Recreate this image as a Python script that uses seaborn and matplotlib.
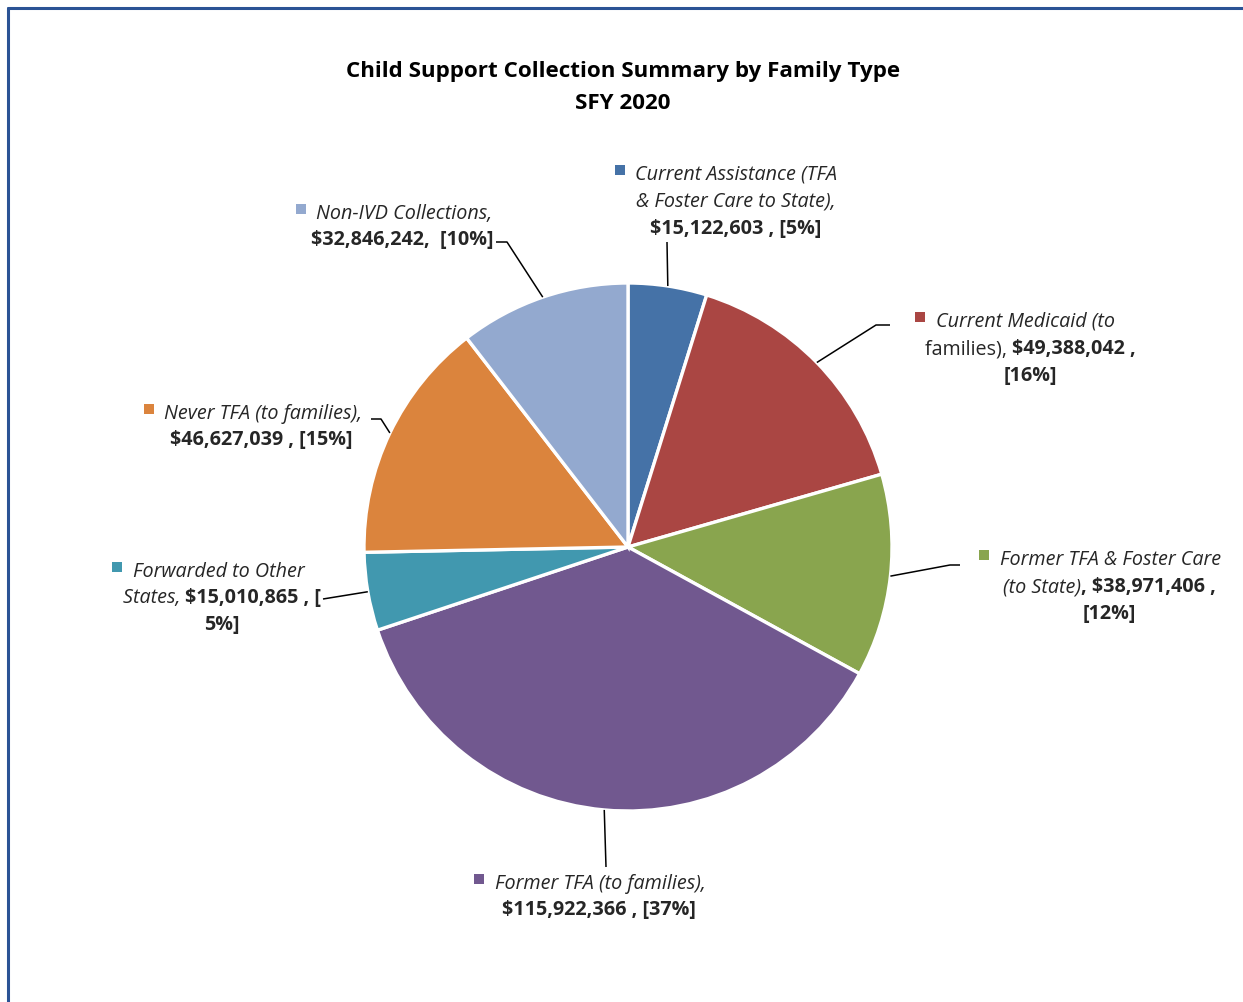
import matplotlib
matplotlib.use("Agg")
import matplotlib.pyplot as plt
import seaborn as sns
import numpy as np
from matplotlib.offsetbox import TextArea, HPacker, DrawingArea, AnnotationBbox
from matplotlib.patches import Rectangle
from matplotlib.lines import Line2D

# ---------------- data ----------------
categories = ["Current Assistance (TFA & Foster Care to State)",
              "Current Medicaid (to families)",
              "Former TFA & Foster Care (to State)",
              "Former TFA (to families)",
              "Forwarded to Other States",
              "Never TFA (to families)",
              "Non-IVD Collections"]
values = [15122603, 49388042, 38971406, 115922366, 15010865, 46627039, 32846242]
pct_labels = ["5%", "16%", "12%", "37%", "5%", "15%", "10%"]
colors = ["#4572A7", "#AA4643", "#89A54E", "#71588F", "#4198AF", "#DB843D", "#93A9CF"]
title_lines = ["Child Support Collection Summary by Family Type", "SFY 2020"]

# ---------------- style ----------------
sns.set_theme(style="white")
plt.rcParams['font.family'] = ['Open Sans', 'DejaVu Sans']

W, H = 1243, 1003
fig = plt.figure(figsize=(W / 100, H / 100), dpi=100)
fig.patch.set_facecolor("white")
ax = fig.add_axes([0, 0, 1, 1])

def Y(y):  # image y (down) -> data y (up)
    return H - y

cx, cy, R = 628, Y(548), 264
wedges, _ = ax.pie(values, colors=colors, startangle=90, counterclock=False,
                   center=(cx, cy), radius=R,
                   wedgeprops=dict(edgecolor="white", linewidth=2.4))
ax.set_xlim(0, W)
ax.set_ylim(0, H)
ax.set_aspect("equal")
ax.axis("off")

FS = 14.2
TXT = "#262626"

def fmt(v):
    return "${:,}".format(v)

def line(xc, y, pieces, square=None):
    children = []
    if square is not None:
        da = DrawingArea(15, 12, 0, 0)
        da.add_artist(Rectangle((0, 2.6), 7.2, 7.2, facecolor=square, edgecolor="none"))
        children.append(da)
    for text, style, weight in pieces:
        children.append(TextArea(text, textprops=dict(fontsize=FS, fontstyle=style,
                                                      fontweight=weight, color=TXT)))
    pack = HPacker(children=children, align="baseline", pad=0, sep=0)
    ab = AnnotationBbox(pack, (xc, Y(y)), xycoords="data", frameon=False,
                        box_alignment=(0.5, 0.5), pad=0)
    ax.add_artist(ab)

I, N, B = "italic", "normal", "bold"
v = [fmt(x) for x in values]
p = pct_labels

# 0 Current Assistance
line(726, 174, [("Current Assistance (TFA", I, N)], square=colors[0])
line(736, 201, [("& Foster Care to State),", I, N)])
line(736, 229, [(v[0] + " , [" + p[0] + "]", N, B)])
# 1 Current Medicaid
line(1015, 321, [("Current Medicaid (to", I, N)], square=colors[1])
line(1030, 349, [("families), ", N, N), (v[1] + " ,", N, B)])
line(1030, 376, [("[" + p[1] + "]", N, B)])
# 2 Former TFA & Foster Care
line(1100, 559, [("Former TFA & Foster Care", I, N)], square=colors[2])
line(1109, 587, [("(to State)", I, N), (", " + v[2] + " ,", N, B)])
line(1109, 614, [("[" + p[2] + "]", N, B)])
# 3 Former TFA (to families)
line(590, 883, [("Former TFA (to families),", I, N)], square=colors[3])
line(599, 910, [(v[3] + " , [" + p[3] + "]", N, B)])
# 4 Forwarded
line(208, 571, [("Forwarded to Other", I, N)], square=colors[4])
line(222, 598, [("States, ", I, N), (v[4] + " , [", N, B)])
line(222, 625, [(p[4] + "]", N, B)])
# 5 Never TFA
line(253, 413, [("Never TFA (to families),", I, N)], square=colors[5])
line(261, 440, [(v[5] + " , [" + p[5] + "]", N, B)])
# 6 Non-IVD
line(394, 213, [("Non-IVD Collections,", I, N)], square=colors[6])
line(402, 240, [(v[6] + ",  [" + p[6] + "]", N, B)])

# leader lines from wedge mid-angle edge to label
leaders = {
    0: [(667, 243)],
    1: [(876, 326), (890, 326)],
    2: [(950, 566), (960, 566)],
    3: [(606, 868)],
    4: [(323, 600)],
    5: [(381, 420), (371, 420)],
    6: [(507, 243), (496, 243)],
}
for i, w in enumerate(wedges):
    ang = np.deg2rad((w.theta1 + w.theta2) / 2)
    ex, ey = cx + R * np.cos(ang), cy + R * np.sin(ang)
    pts = [(ex, ey)] + [(x, Y(y)) for x, y in leaders[i]]
    xs, ys = zip(*pts)
    ax.plot(xs, ys, color="black", lw=1.1, solid_capstyle="butt", zorder=5)

# title
ax.text(623, Y(71), title_lines[0], ha="center", va="center", fontsize=16.1,
        fontweight="bold", color="black")
ax.text(623, Y(103), title_lines[1], ha="center", va="center", fontsize=16.1,
        fontweight="bold", color="black")

# frame border (top & left visible)
bc = "#2B5395"
fig.add_artist(Line2D([8 / W, 1.0], [1 - 9 / H, 1 - 9 / H], transform=fig.transFigure,
                      color=bc, lw=2.2))
fig.add_artist(Line2D([8 / W, 8 / W], [0, 1 - 9 / H], transform=fig.transFigure,
                      color=bc, lw=2.2))

fig.savefig("out.png", dpi=100, facecolor="white")
